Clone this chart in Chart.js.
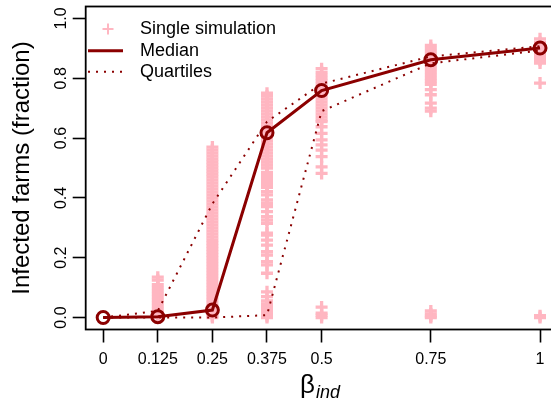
<!DOCTYPE html>
<html>
<head>
<meta charset="utf-8">
<script src="https://cdn.jsdelivr.net/npm/chart.js@4"></script>
<style>
  html, body { margin: 0; padding: 0; background: #fff; overflow: hidden; }
  #wrap { width: 551px; height: 406px; overflow: hidden; position: relative; }
  #infChart { display: block; position: absolute; left: 0; top: 0; }
</style>
</head>
<body>
<div id="wrap"><canvas id="infChart" width="558" height="406"></canvas></div>
<script>
const betas = [0, 0.125, 0.25, 0.375, 0.5, 0.75, 1];
const betaLabels = ["0", "0.125", "0.25", "0.375", "0.5", "0.75", "1"];
const yTicks = [0, 0.2, 0.4, 0.6, 0.8, 1.0];
const yTickLabels = ["0.0", "0.2", "0.4", "0.6", "0.8", "1.0"];

const medians = [0, 0.003, 0.025, 0.618, 0.759, 0.862, 0.901];
const upperQuartiles = [0, 0.022, 0.38, 0.655, 0.782, 0.873, 0.907];
const lowerQuartiles = [0, 0, 0, 0.008, 0.69, 0.85, 0.893];

// single simulation outcomes per beta
const sims0125 = [0.135, 0.125, 0.11, 0.10, 0.09, 0.08, 0.07, 0.06, 0.05, 0.04, 0.03, 0.02, 0.01, 0.005, 0];
const sims025 = [0.57, 0.56, 0.55, 0.54, 0.53, 0.52, 0.51, 0.50, 0.49, 0.48, 0.47, 0.46, 0.45, 0.44, 0.43,
  0.42, 0.41, 0.40, 0.39, 0.38, 0.37, 0.36, 0.35, 0.34, 0.33, 0.32, 0.31, 0.30, 0.29, 0.28, 0.27, 0.26,
  0.25, 0.24, 0.23, 0.22, 0.21, 0.20, 0.19, 0.18, 0.17, 0.16, 0.15, 0.14, 0.13, 0.12, 0.11, 0.10, 0.09,
  0.08, 0.07, 0.06, 0.05, 0.04, 0.03, 0.02, 0.01, 0.005, 0];
const sims0375 = [0.75, 0.74, 0.73, 0.72, 0.71, 0.70, 0.69, 0.68, 0.67, 0.66, 0.65, 0.64, 0.63, 0.62, 0.61,
  0.60, 0.59, 0.58, 0.57, 0.56, 0.55, 0.54, 0.53, 0.52, 0.51, 0.50, 0.485, 0.475, 0.465, 0.455, 0.445, 0.435,
  0.421, 0.41, 0.393, 0.382, 0.371, 0.354, 0.337, 0.326, 0.315, 0.282, 0.276, 0.259, 0.242, 0.22, 0.209,
  0.187, 0.176, 0.148, 0.086, 0.07, 0.056, 0.046, 0.036, 0.026, 0.016, 0.006, 0];
const sims05 = [0.832, 0.82, 0.81, 0.80, 0.79, 0.78, 0.77, 0.76, 0.75, 0.74, 0.73, 0.72, 0.71, 0.70, 0.69,
  0.68, 0.67, 0.66, 0.655, 0.638, 0.616, 0.594, 0.577, 0.56, 0.538, 0.504, 0.482,
  0.035, 0.015, 0.008, 0];
const sims075 = [0.91, 0.90, 0.89, 0.88, 0.87, 0.86, 0.85, 0.84, 0.83, 0.82, 0.81, 0.80, 0.79, 0.78,
  0.762, 0.745, 0.717, 0.70, 0.69, 0.022, 0.012, 0.005, 0];
const sims1 = [0.932, 0.92, 0.91, 0.90, 0.89, 0.88, 0.87, 0.86, 0.851, 0.784, 0.006, 0];

const simGroups = [[0.125, sims0125], [0.25, sims025], [0.375, sims0375], [0.5, sims05], [0.75, sims075], [1, sims1]];
const simPoints = simGroups.flatMap(([b, vals]) => vals.map(v => ({ x: b, y: v })));

const legendLabels = ["Single simulation", "Median", "Quartiles"];

const darkRed = "#8B0000";
const pink = "#FFB6C1";
const FONT = "'Liberation Sans', Arial, sans-serif";

const toXY = vals => betas.map((b, i) => ({ x: b, y: vals[i] }));

// frame, rotated y labels, axis titles and legend
const decorations = {
  id: "decorations",
  afterDraw(chart) {
    const c = chart.ctx;
    const a = chart.chartArea;
    const ys = chart.scales.y;
    c.save();
    c.strokeStyle = "#000";
    c.lineWidth = 1.8;
    c.strokeRect(a.left, a.top, a.right - a.left, a.bottom - a.top);

    c.fillStyle = "#000";
    c.font = "16px " + FONT;
    c.textAlign = "center";
    c.textBaseline = "alphabetic";
    yTicks.forEach((v, i) => {
      c.save();
      c.translate(66, ys.getPixelForValue(v));
      c.rotate(-Math.PI / 2);
      c.fillText(yTickLabels[i], 0, 0);
      c.restore();
    });

    c.save();
    c.font = "24px " + FONT;
    c.translate(28.5, (a.top + a.bottom) / 2);
    c.rotate(-Math.PI / 2);
    c.fillText("Infected farms (fraction)", 0, 0);
    c.restore();

    // beta with italic subscript
    c.font = "26px " + FONT;
    const bw = c.measureText("β").width;
    c.font = "italic 18px " + FONT;
    const sw = c.measureText("ind").width;
    const x0 = (a.left + a.right) / 2 - (bw + sw) / 2 - 2;
    c.textAlign = "left";
    c.font = "26px " + FONT;
    c.fillText("β", x0, 393);
    c.font = "italic 18px " + FONT;
    c.fillText("ind", x0 + bw + 1, 398);

    // legend
    c.font = "18px " + FONT;
    c.textBaseline = "middle";
    const rows = [29, 50.7, 71.7];
    c.strokeStyle = pink;
    c.lineWidth = 2;
    c.beginPath();
    c.moveTo(108, rows[0] - 5.5); c.lineTo(108, rows[0] + 5.5);
    c.moveTo(102.5, rows[0]); c.lineTo(113.5, rows[0]);
    c.stroke();
    c.strokeStyle = darkRed;
    c.lineWidth = 3;
    c.beginPath();
    c.moveTo(88, rows[1]); c.lineTo(123, rows[1]);
    c.stroke();
    c.lineWidth = 2;
    c.setLineDash([2, 6]);
    c.beginPath();
    c.moveTo(88, rows[2]); c.lineTo(123, rows[2]);
    c.stroke();
    c.setLineDash([]);
    legendLabels.forEach((t, i) => c.fillText(t, 140, rows[i]));
    c.restore();
  }
};

new Chart(document.getElementById("infChart"), {
  type: "scatter",
  data: {
    datasets: [
      {
        data: simPoints,
        pointStyle: "cross",
        pointRadius: 6,
        pointHoverRadius: 6,
        pointBorderWidth: 3.3,
        pointBorderColor: pink,
        order: 3
      },
      {
        data: toXY(upperQuartiles),
        showLine: true,
        borderColor: darkRed,
        borderWidth: 2,
        borderDash: [2, 6],
        pointRadius: 0,
        order: 2
      },
      {
        data: toXY(lowerQuartiles),
        showLine: true,
        borderColor: darkRed,
        borderWidth: 2,
        borderDash: [2, 6],
        pointRadius: 0,
        order: 2
      },
      {
        data: toXY(medians),
        showLine: true,
        borderColor: darkRed,
        borderWidth: 3,
        pointStyle: "circle",
        pointRadius: 6,
        pointHoverRadius: 6,
        pointBorderWidth: 3,
        pointBorderColor: darkRed,
        pointBackgroundColor: "rgba(0,0,0,0)",
        order: 1
      }
    ]
  },
  options: {
    responsive: false,
    animation: false,
    devicePixelRatio: 1,
    layout: { autoPadding: false, padding: { left: 0, top: 6.5, right: 0.5, bottom: 0 } },
    plugins: { legend: { display: false }, tooltip: { enabled: false } },
    scales: {
      x: {
        type: "linear",
        min: -0.04,
        max: 1.04,
        afterBuildTicks: s => { s.ticks = betas.map(v => ({ value: v })); },
        afterFit: s => { s.height = 406 - 329.5; },
        border: { display: false },
        grid: { drawOnChartArea: false, drawTicks: true, tickLength: 13, tickWidth: 1.6, tickColor: "#000" },
        ticks: {
          color: "#000",
          padding: 7,
          maxRotation: 0,
          autoSkip: false,
          font: { size: 16, family: FONT },
          callback: (v, i) => betaLabels[i]
        }
      },
      y: {
        type: "linear",
        min: -0.04,
        max: 1.04,
        afterBuildTicks: s => { s.ticks = yTicks.map(v => ({ value: v })); },
        afterFit: s => { s.width = 85.7; },
        border: { display: false },
        grid: { drawOnChartArea: false, drawTicks: true, tickLength: 13, tickWidth: 1.6, tickColor: "#000" },
        ticks: { display: false }
      }
    }
  },
  plugins: [decorations]
});
</script>
</body>
</html>
